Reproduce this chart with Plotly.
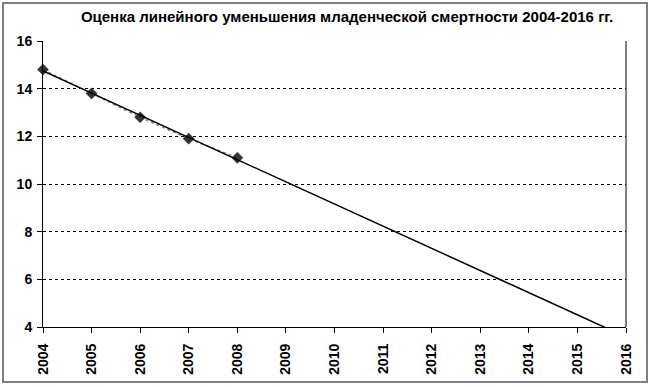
import plotly.graph_objects as go

years = [2004, 2005, 2006, 2007, 2008]
mortality = [14.8, 13.8, 12.8, 11.9, 11.1]
trend_years = [2004, 2016]
trend_values = [14.74, 3.58]
x_ticks = list(range(2004, 2017))
y_ticks = [4, 6, 8, 10, 12, 14, 16]
title_text = "Оценка линейного уменьшения младенческой смертности 2004-2016 гг."

FONT = "Liberation Sans, Arial, sans-serif"
L, R, T, B = 43, 626, 41, 327
PW, PH = R - L, B - T

fig = go.Figure()
fig.add_trace(go.Scatter(
    x=years, y=mortality, mode="lines+markers",
    line=dict(color="#808080", width=1.5, dash="dot"),
    marker=dict(symbol="diamond", size=9, color="#333333"),
    showlegend=False, cliponaxis=False,
))
fig.add_trace(go.Scatter(
    x=trend_years, y=trend_values, mode="lines",
    line=dict(color="black", width=1.5),
    showlegend=False,
))

tick_font = dict(family=FONT, size=14, color="black", weight="bold")

fig.update_layout(
    width=650, height=387,
    margin=dict(l=L, r=650 - R, t=T, b=387 - B, autoexpand=False),
    paper_bgcolor="white", plot_bgcolor="white",
    font=dict(family=FONT, size=14, color="black"),
    title=dict(text=title_text, x=0.534, xanchor="center", xref="container",
               y=1 - 17 / 387, yanchor="middle", yref="container",
               font=dict(family=FONT, size=15, color="black", weight="bold")),
    xaxis=dict(range=[2004, 2016], tickmode="array", tickvals=x_ticks,
               ticktext=[str(v) for v in x_ticks], tickangle=-90,
               showgrid=False, zeroline=False, showline=True, linecolor="black",
               linewidth=1, ticks="outside", ticklen=5, tickcolor="black",
               ticklabelstandoff=5,
               automargin=False, tickfont=tick_font),
    yaxis=dict(range=[4, 16], tickmode="array", tickvals=y_ticks,
               showgrid=True, gridcolor="black", griddash="dot", gridwidth=1,
               zeroline=False, showline=True, linecolor="black", linewidth=1,
               ticks="outside", ticklen=5, tickcolor="black",
               ticklabelstandoff=2,
               automargin=False, tickfont=tick_font),
)

# right border of plot area
fig.add_shape(type="line", xref="paper", yref="paper", x0=1, x1=1, y0=0, y1=1,
              line=dict(color="black", width=1))
# outer chart frame
fig.add_shape(type="rect", xref="paper", yref="paper",
              x0=(3 - L) / PW, x1=(647 - L) / PW,
              y0=(B - 382) / PH, y1=(B - 3) / PH,
              line=dict(color="#7f7f7f", width=2), fillcolor="rgba(0,0,0,0)")

fig.write_html("out.html", config={"displayModeBar": False},
               post_script="document.body.style.margin='0';document.body.style.padding='0';")
